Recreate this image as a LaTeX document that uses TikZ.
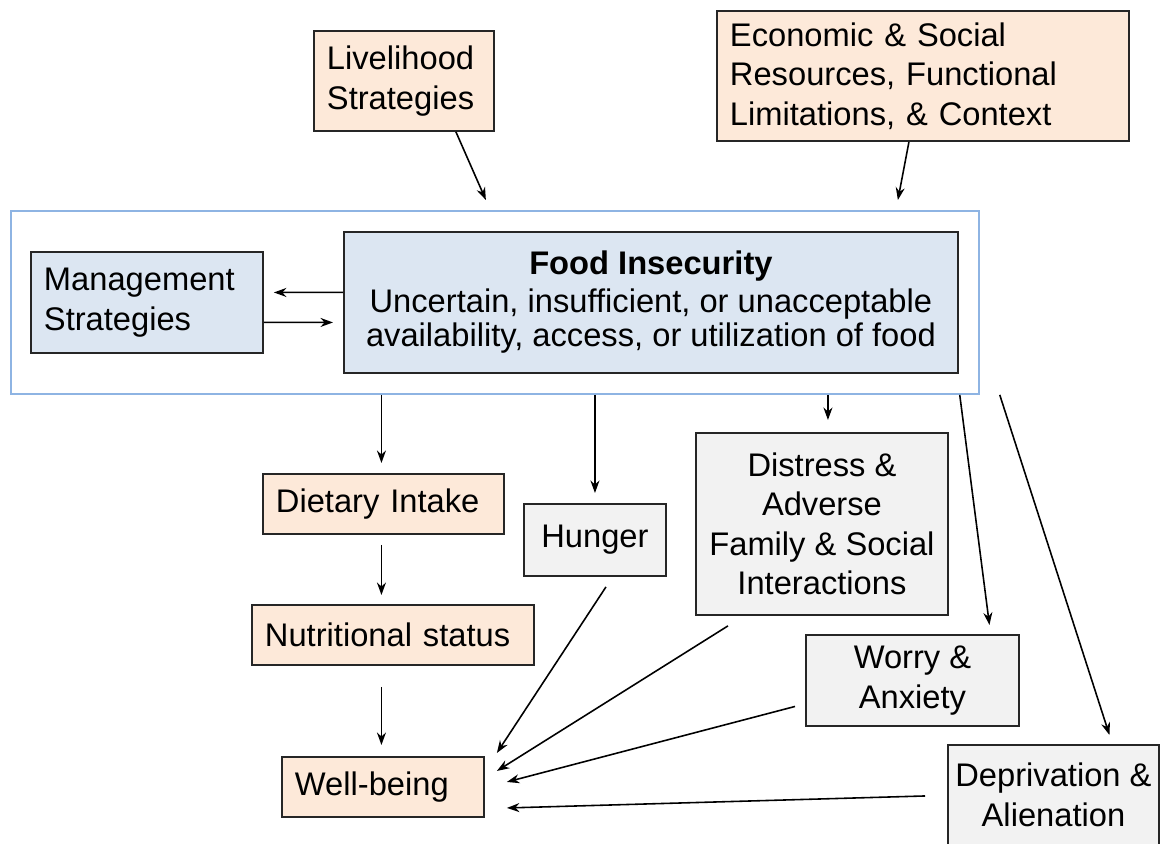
\documentclass[tikz,border=0pt]{standalone}
\usepackage{fontspec}
\setmainfont{Liberation Sans}
\usepackage{xcolor}
\usetikzlibrary{calc,positioning,arrows.meta}

\definecolor{peach}{HTML}{FDE9D9}
\definecolor{paleblue}{HTML}{DCE6F2}
\definecolor{palegray}{HTML}{F2F2F2}
\definecolor{frameblue}{HTML}{8EB4E3}

\tikzset{
  box/.style={draw=black!85,line width=1.1pt,inner xsep=0.26cm,inner ysep=0pt,
    font=\fontsize{18.6}{22.5}\selectfont,anchor=north west},
  peachbox/.style={box,fill=peach,align=left},
  bluebox/.style={box,fill=paleblue},
  graybox/.style={box,fill=palegray,align=center,inner xsep=0.1cm},
}

\begin{document}
\begin{tikzpicture}[x=0.02cm,y=-0.02cm,>={Stealth[length=2.5mm,width=1.8mm]},line width=0.9pt]
\clip (0,0) rectangle (1165,844);

\node[peachbox,text width=3.08cm,minimum height=2cm] (live) at (313,30) {Livelihood\\Strategies};
\node[peachbox,text width=7.72cm,minimum height=2.6cm] (econ) at (716,10) {Economic \& Social\\Resources, Functional\\Limitations, \& Context};

\node[draw=frameblue,line width=1.1pt,minimum width=19.36cm,minimum height=3.66cm,anchor=north west,inner sep=0pt] (frame) at (10,210) {};
\node[bluebox,align=left,text width=4.12cm,minimum height=2.02cm] (mgmt) at (30,251) {Management\\Strategies};
\node[bluebox,align=center,minimum width=12.28cm,minimum height=2.82cm] (food) at (343,231) {\textbf{Food Insecurity}\\[-1pt]Uncertain, insufficient, or unacceptable\\[-3pt]availability, access, or utilization of food};

\node[peachbox,text width=4.3cm,minimum height=1.2cm] (diet) at (262,473) {Dietary Intake};
\node[graybox,minimum width=2.84cm,minimum height=1.44cm] (hunger) at (523,503) {Hunger};
\node[graybox,minimum width=5.04cm,minimum height=3.64cm] (distress) at (695,432) {Distress \&\\Adverse\\Family \& Social\\Interactions};
\node[peachbox,text width=5.12cm,minimum height=1.2cm] (nutr) at (251,604) {Nutritional status};
\node[graybox,minimum width=4.26cm,minimum height=1.82cm] (worry) at (805,634) {Worry \&\\Anxiety};
\node[peachbox,text width=3.52cm,minimum height=1.2cm] (well) at (281,756) {Well-being};
\node[graybox,minimum width=4.22cm,minimum height=2.0cm] (depr) at (947,744) {Deprivation \&\\Alienation};
\draw[draw=black!85,line width=1.1pt] (depr.south west) -- ++(0,10) (depr.south east) -- ++(0,10);

\draw[->] ($(live.south)+(52,0)$) -- ($(frame.north)+(-9,-10)$);
\draw[->] ($(econ.south)+(-14,0)$) -- ($(frame.north)+(403,-10)$);
\draw[->] ($(food.west)+(0,-10)$) -- ($(mgmt.east)+(10,-10)$);
\draw[->] ($(mgmt.east)+(0,20)$) -- ($(food.west)+(-10,20)$);

\draw[->] ($(frame.south -| diet)+(-2,0)$) -- ($(diet.north)+(-2,-10)$);
\draw[->] ($(diet.south)+(-2,10)$) -- ($(diet.south |- nutr.north)+(-2,-9)$);
\draw[->] ($(diet.south |- nutr.south)+(-2,21)$) -- ($(diet.south |- well.north)+(-2,-11)$);
\draw[->] (frame.south -| hunger) -- ($(hunger.north)+(0,-10)$);
\draw[->] ($(frame.south -| distress)+(6,0)$) -- ($(distress.north)+(6,-12)$);
\draw[->] ($(frame.south east)+(-20,0)$) -- ($(worry.north)+(77,-9)$);
\draw[->] ($(frame.south east)+(20,0)$) -- ($(depr.north)+(56,-9)$);

\draw[->] ($(hunger.south)+(11,10)$) -- ($(well.east)+(12,-34)$);
\draw[->] ($(distress.south)+(-94,10)$) -- ($(well.east)+(12,-16)$);
\draw[->] ($(worry.west)+(-10,26)$) -- ($(well.east)+(22,-5)$);
\draw[->] ($(depr.west)+(-22,1)$) -- ($(well.east)+(22,21)$);
\end{tikzpicture}
\end{document}
